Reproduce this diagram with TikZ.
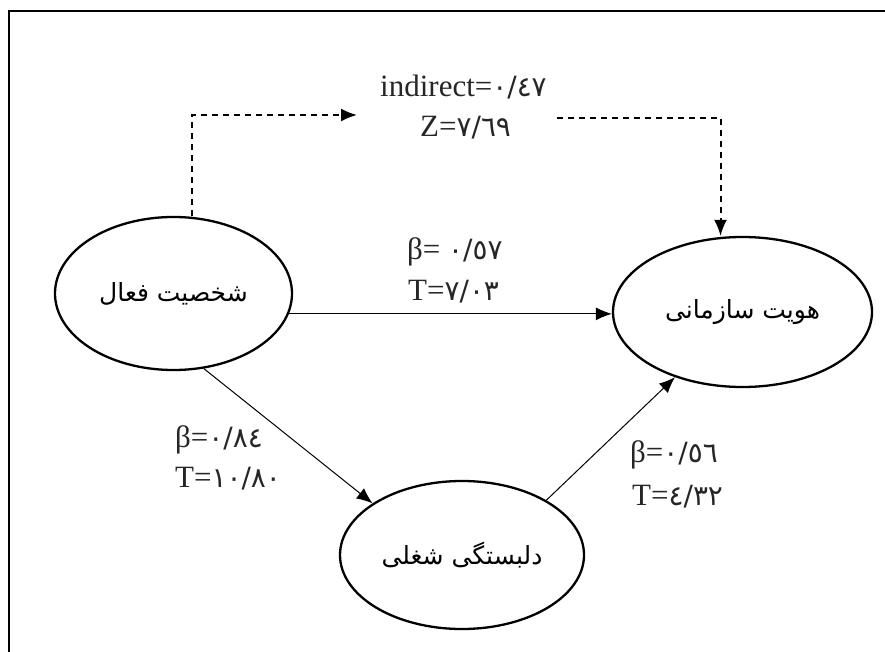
\documentclass[tikz,border=0pt]{standalone}
\usepackage{fontspec}
\setmainfont{Liberation Serif}
\newfontfamily\arabicfont[Script=Arabic, Scale=0.9]{DejaVu Sans}
\newfontfamily\persianfont[Script=Arabic]{DejaVu Sans}
\usetikzlibrary{shapes.geometric}
\usetikzlibrary{arrows.meta}
\TeXXeTstate=1
\newcommand{\fa}[1]{{\arabicfont #1}}

\begin{document}
\begin{tikzpicture}[x=1pt, y=-1pt,
construct/.style={ellipse, draw, line width=2.3pt, inner sep=0, font=\fontsize{25}{30}\persianfont},
effect/.style={line width=1pt, -{Latex[length=16pt, width=13pt]}},
mediated/.style={line width=2pt, dash pattern=on 6pt off 5pt, -{Latex[length=16pt, width=13pt]}},
coef/.style={inner sep=0, anchor=base west, text=black!85, font=\fontsize{31}{41}\selectfont}]
\useasboundingbox (0,0) rectangle (885,652);
%%%%%%%%%%%%%%%%%%%%%%% FRAME %%%%%%%%%%%%%%%%%%%%%%%%%%%
\draw[line width=2.5pt] (9,652) -- (9,11) -- (885,11);
%%%%%%%%%%%%%%%%%%%%%%% CONSTRUCTS %%%%%%%%%%%%%%%%%%%%%%%
\node[construct, minimum width=237pt, minimum height=153pt] (Active) at (173.5,293.5) {\beginR شخصیت فعال\endR};
\node[construct, minimum width=259pt, minimum height=150pt] (Identity) at (742.5,312) {\beginR هویت سازمانی\endR};
\node[construct, minimum width=244pt, minimum height=148pt] (Involve) at (462,555) {\beginR دلبستگی شغلی\endR};
%%%%%%%% COEFFICIENTS %%%%%%%%%%%%%
\node[coef] (IndLabel) at (380,97) {indirect=\fa{٠/٤٧}};
\node[coef] (ZLabel) at (420,137) {Z=\fa{٧/٦٩}};
\node[coef] (DirBeta) at (407,259) {β= \fa{٠/٥٧}};
\node[coef] (DirT) at (408,300) {T=\fa{٧/٠٣}};
\node[coef] (AIBeta) at (175,447) {β=\fa{٠/٨٤}};
\node[coef] (AIT) at (175,487) {T=\fa{١٠/٨٠}};
\node[coef] (IHBeta) at (630,462) {β=\fa{٠/٥٦}};
\node[coef] (IHT) at (632,505) {T=\fa{٤/٣٢}};
%%%%%%%% PATHS %%%%%%%%%%%%%
\draw[effect] (Active.-10) -- (Active.-10 -| Identity.west);
\draw[effect] (Active.-68) -- (Involve.150);
\draw[effect] (Involve.33) -- (Identity.224);
\coordinate (IndIn) at (357,115);
\coordinate (IndOut) at (557,118);
\draw[mediated] ([xshift=18.5pt]Active.north) |- (IndIn);
\draw[mediated] (IndOut) -| ([xshift=-22pt]Identity.north);
\end{tikzpicture}
\end{document}
